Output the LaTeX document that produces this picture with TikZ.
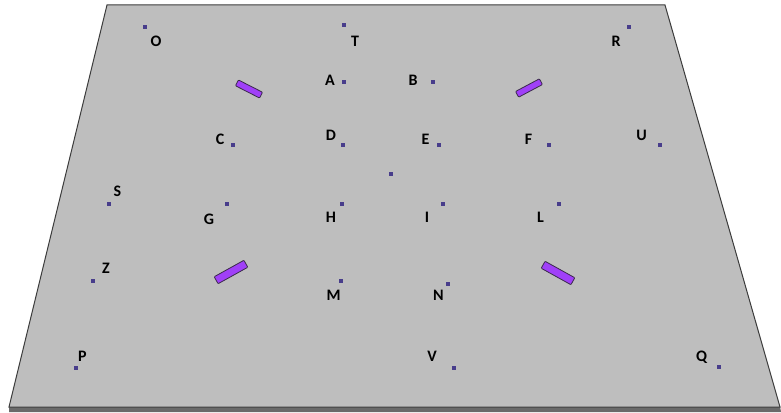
\documentclass[tikz,border=0pt]{standalone}
\usepackage{fontspec}
\setmainfont{Carlito}
\usepackage{xcolor}
\usepackage{tikz}
\usetikzlibrary{positioning}
\definecolor{PlateGray}{HTML}{BEBEBE}
\definecolor{EdgeGray}{HTML}{3C3C3C}
\definecolor{RimGray}{HTML}{6A6A6A}
\definecolor{PointBlue}{HTML}{483D8B}
\definecolor{SlabViolet}{HTML}{A040F8}
\definecolor{SlabEdge}{HTML}{3A2A4A}

\begin{document}
\begin{tikzpicture}[x=1pt, y=-1pt,
  plate/.style={fill=PlateGray, draw=EdgeGray, line width=1pt, line join=miter},
  pt/.style={rectangle, fill=PointBlue, inner sep=0pt, minimum size=4pt},
  lbl/.style={font=\fontsize{16}{16}\selectfont\bfseries, text=black, inner sep=0pt},
  slab/.style={rectangle, fill=SlabViolet, draw=SlabEdge, line width=0.8pt,
    rounded corners=0.8pt, inner sep=0pt},
  smallslab/.style={slab, minimum width=27pt, minimum height=6.5pt},
  bigslab/.style={slab, minimum width=34pt, minimum height=8pt}
]
\useasboundingbox (0,0) rectangle (781,412);

% Plate
\fill[RimGray] (9,406) -- (780,406) -- (781,412) -- (9,412) -- cycle;
\draw[plate] (107,5) -- (665,5) -- (780,407) -- (9,407) -- cycle;

% Slabs
\node[smallslab, rotate=-27] (slabA) at (249,89) {};
\node[smallslab, rotate=28]  (slabB) at (529,88) {};
\node[bigslab, rotate=29]    (slabC) at (231,272) {};
\node[bigslab, rotate=-29]   (slabD) at (558,273) {};

% Points, top row
\node[pt] (pO) at (145,27) {};
\node[lbl] (O) at (156,41) {O};
\node[pt] (pT) at (343.5,25) {};
\node[lbl] (T) at (355,41) {T};
\node[pt] (pR) at (628.5,27) {};
\node[lbl] (R) at (616,41) {R};

% Points, second row
\node[pt] (pA) at (344,82) {};
\node[lbl] (A) at (330,80) {A};
\node[pt] (pB) at (433,82) {};
\node[lbl] (B) at (413,80) {B};

% Points, third row
\node[pt] (pC) at (232.5,144.5) {};
\node[lbl] (C) at (220,139.5) {C};
\node[pt] (pD) at (342.5,144.5) {};
\node[lbl] (D) at (331,135) {D};
\node[pt] (pE) at (438.5,144.5) {};
\node[lbl] (E) at (425.5,139.5) {E};
\node[pt] (pF) at (548.5,144.5) {};
\node[lbl] (F) at (528.5,139.5) {F};
\node[pt] (pU) at (659.5,144.5) {};
\node[lbl] (U) at (641.5,135) {U};

% Centre point
\node[pt] (pX) at (391,173.5) {};

% Points, fourth row
\node[pt] (pS) at (109,204) {};
\node[lbl] (S) at (117.5,191.5) {S};
\node[pt] (pG) at (226.5,204) {};
\node[lbl] (G) at (209,219) {G};
\node[pt] (pH) at (342,204) {};
\node[lbl] (H) at (331,217.5) {H};
\node[pt] (pI) at (442.5,204) {};
\node[lbl] (I) at (427,217.5) {I};
\node[pt] (pL) at (559,204) {};
\node[lbl] (L) at (540.5,217.5) {L};

% Points, fifth row
\node[pt] (pZ) at (93,281) {};
\node[lbl] (Z) at (106,268.5) {Z};
\node[pt] (pM) at (341,281) {};
\node[lbl] (M) at (333.5,295) {M};
\node[pt] (pN) at (447.5,283.5) {};
\node[lbl] (N) at (438.5,295) {N};

% Points, bottom row
\node[pt] (pP) at (75.5,367.5) {};
\node[lbl] (P) at (82.5,356.5) {P};
\node[pt] (pV) at (454,367.5) {};
\node[lbl] (V) at (432,356) {V};
\node[pt] (pQ) at (718.5,367) {};
\node[lbl] (Q) at (701.5,357) {Q};

\end{tikzpicture}
\end{document}
